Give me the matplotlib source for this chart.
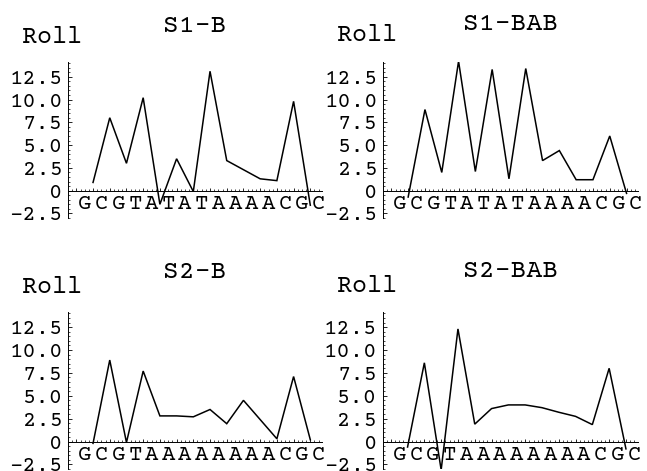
import matplotlib
matplotlib.use("Agg")
import matplotlib.pyplot as plt
import numpy as np
from matplotlib.ticker import MultipleLocator, FixedLocator

# base sequences (letters sit between the roll steps)
SEQ_S1 = "GCGTATATAAAACGC"
SEQ_S2 = "GCGTAAAAAAAACGC"

# roll angle per base-pair step
roll_s1_b = [0.9, 8.0, 3.0, 10.2, -1.5, 3.5, -0.1, 13.1, 3.3, 2.3, 1.3, 1.1, 9.8, -1.6]
roll_s1_bab = [-0.7, 8.9, 2.0, 14.2, 2.1, 13.3, 1.3, 13.4, 3.3, 4.4, 1.2, 1.2, 6.0, -0.3]
roll_s2_b = [-0.2, 8.9, -0.1, 7.7, 2.8, 2.8, 2.7, 3.5, 1.95, 4.5, 2.4, 0.3, 7.1, 0.2]
roll_s2_bab = [-0.6, 8.6, -3.1, 12.3, 1.9, 3.6, 4.0, 4.0, 3.7, 3.2, 2.75, 1.85, 8.0, -0.8]

titles = ["S1-B", "S1-BAB", "S2-B", "S2-BAB"]
y_ticks = [-2.5, 0, 2.5, 5.0, 7.5, 10.0, 12.5]
y_tick_labels = ["-2.5", "0", "2.5", "5.0", "7.5", "10.0", "12.5"]

# courier-like serif mono if present, else plain mono
FONT = ["Courier Prime", "Cutive Mono", "Liberation Mono", "DejaVu Sans Mono"]
W, H = 647, 471


def draw_panel(fig, px_left, px_right, px_top, px_bottom, title, seq, roll, roll_top, title_y):
    ax = fig.add_axes([px_left / W, 1 - px_bottom / H,
                       (px_right - px_left) / W, (px_bottom - px_top) / H])
    steps = np.arange(1, len(roll) + 1)
    ax.plot(steps, roll, color="black", lw=1.1, solid_joinstyle="miter")
    ax.set_xlim(-0.48, 14.7)
    ax.set_ylim(-3.0, 14.15)

    for s in ["top", "right"]:
        ax.spines[s].set_visible(False)
    ax.spines["bottom"].set_position(("data", 0))
    ax.spines["left"].set_linewidth(0.7)
    ax.spines["bottom"].set_linewidth(0.7)

    ax.yaxis.set_major_locator(FixedLocator(y_ticks))
    ax.set_yticklabels(y_tick_labels, fontfamily=FONT, fontsize=16)
    ax.yaxis.set_minor_locator(MultipleLocator(0.5))
    ax.xaxis.set_major_locator(MultipleLocator(1))
    ax.xaxis.set_minor_locator(MultipleLocator(0.25))
    ax.set_xticklabels([])
    ax.tick_params(axis="y", which="major", direction="in", length=3, width=0.6, pad=4)
    ax.tick_params(axis="y", which="minor", direction="in", length=1.5, width=0.5)
    ax.tick_params(axis="x", which="major", direction="in", length=2.5, width=0.6, labelbottom=False)
    ax.tick_params(axis="x", which="minor", direction="in", length=1.2, width=0.5)

    # base letters under the axis
    for j, ch in enumerate(seq):
        ax.annotate(ch, xy=(j + 0.5, 0), xytext=(0, -13), textcoords="offset pixels",
                    ha="center", va="center", fontfamily=FONT, fontsize=16)

    cx = (px_left + px_right) / 2
    fig.text(cx / W, 1 - title_y / H, title, ha="center", va="center",
             fontfamily=FONT, fontsize=19)
    fig.text((px_left - 16) / W, 1 - roll_top / H, "Roll", ha="center", va="center",
             fontfamily=FONT, fontsize=18)
    return ax


fig = plt.figure(figsize=(W / 100, H / 100), dpi=100)

draw_panel(fig, 68.3, 322, 61.7, 218, titles[0], SEQ_S1, roll_s1_b, 37, 25.5)
draw_panel(fig, 383.3, 638.3, 61.7, 218, titles[1], SEQ_S1, roll_s1_bab, 35, 23.5)
draw_panel(fig, 68.3, 322, 312, 469, titles[2], SEQ_S2, roll_s2_b, 287, 272)
draw_panel(fig, 382.7, 637.7, 312, 469, titles[3], SEQ_S2, roll_s2_bab, 286, 271)

fig.savefig("out.png", dpi=100)
plt.close(fig)
